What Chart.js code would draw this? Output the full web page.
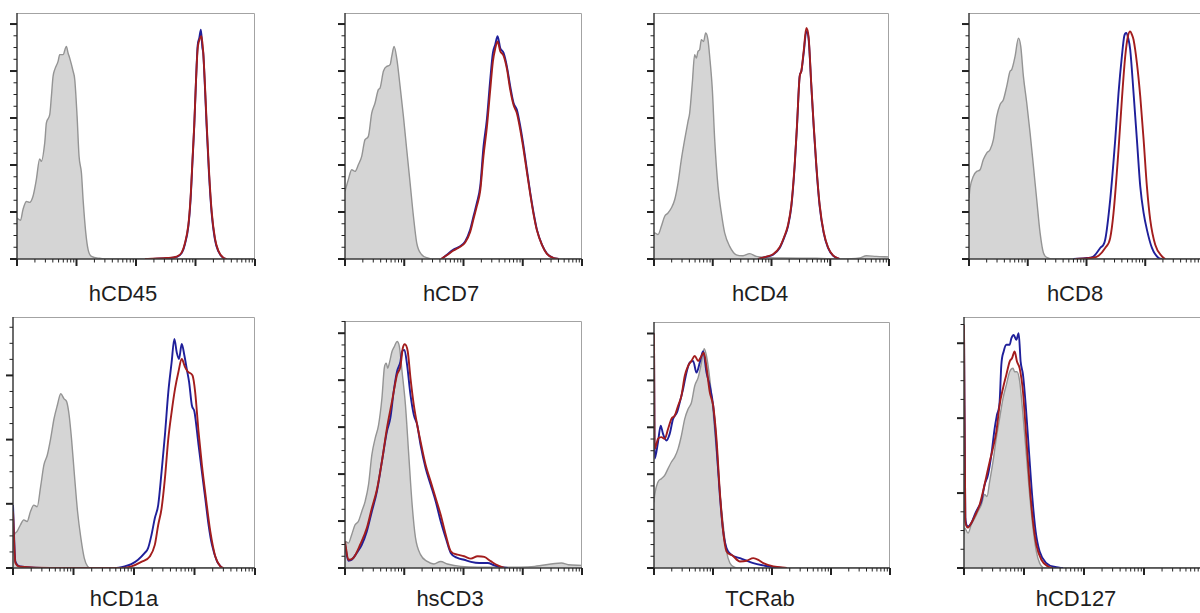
<!DOCTYPE html>
<html>
<head>
<meta charset="utf-8">
<title>Marker histograms</title>
<script src="https://cdn.jsdelivr.net/npm/chart.js@4.4.1/dist/chart.umd.min.js"></script>
<style>
  body { margin: 0; background: #fff; width: 1200px; height: 613px; overflow: hidden; position: relative;
         font-family: "Liberation Sans", Arial, sans-serif; }
  canvas { position: absolute; }
  .label { position: absolute; font-size: 22px; line-height: 22px; color: #1e1e1e;
           transform: translateX(-50%); white-space: nowrap; }
</style>
</head>
<body>
<script>
// histogram data: [log10 fluorescence, % of max]
const markers = ["hCD45", "hCD7", "hCD4", "hCD8", "hCD1a", "hsCD3", "TCRab", "hCD127"];
const yMaxes = [104.7, 104.7, 104.7, 104.7, 78.2, 105.2, 104.9, 67];
const yStep = 20;

const cd45Gray = [[1.0,17.4],[1.06,16.5],[1.1,21],[1.157,24.5],[1.213,24.1],[1.269,26.7],[1.325,33.8],[1.381,42.6],[1.41,41.6],[1.466,49.4],[1.494,57.9],[1.55,61.4],[1.578,69.2],[1.606,77.7],[1.634,80.6],[1.69,84.1],[1.718,87],[1.774,87],[1.83,90.5],[1.858,87.7],[1.886,85.5],[1.943,79.9],[1.971,76.3],[2.01,60.7],[2.043,43.7],[2.083,36.6],[2.111,25.2],[2.156,11.1],[2.195,4],[2.251,1.1],[2.39,0.3],[2.5,0],[5,0]];
const cd45Blue = [[3.18,0],[3.51,0.3],[3.68,0.9],[3.77,2.6],[3.82,6.1],[3.88,13.9],[3.917,25.2],[3.951,42.3],[3.979,56.5],[4.007,74.9],[4.035,90.5],[4.063,94],[4.091,97.6],[4.115,90],[4.13,87.7],[4.158,73.5],[4.187,56.5],[4.226,36.6],[4.271,19.6],[4.327,8.2],[4.383,3.3],[4.467,0.4],[4.523,0]];
const cd45Red = [[3.15,0],[3.51,0.4],[3.68,1],[3.77,2.8],[3.82,6.5],[3.88,14.5],[3.917,26],[3.951,43],[3.979,57],[4.007,75],[4.035,89],[4.07,93.5],[4.1,94.8],[4.13,88],[4.158,74.5],[4.187,58],[4.226,38],[4.271,20.5],[4.327,8.8],[4.383,3.6],[4.467,0.5],[4.523,0]];

const cd7Gray = [[1.0,28.8],[1.056,33.8],[1.113,38],[1.169,37.3],[1.225,40.1],[1.282,43.7],[1.338,50.8],[1.394,52.2],[1.451,62.1],[1.507,66.4],[1.563,72.1],[1.592,72.8],[1.648,79.9],[1.704,82],[1.761,82.7],[1.789,86.2],[1.828,90.5],[1.873,85.5],[1.93,73.5],[1.986,60.7],[2.042,46.5],[2.099,32.3],[2.155,18.2],[2.211,6.8],[2.296,1.8],[2.408,0.4],[2.49,0],[5,0]];
const cd7Blue = [[2.634,0],[2.718,1.8],[2.831,4],[2.944,5.4],[3.028,7.5],[3.113,12.5],[3.169,18.2],[3.225,23.8],[3.282,30.9],[3.338,47.9],[3.394,59.3],[3.451,76.3],[3.496,87.7],[3.535,91.2],[3.575,94.8],[3.62,89.8],[3.676,87.7],[3.732,82],[3.789,73.5],[3.845,66.4],[3.901,63.5],[3.958,56.5],[4.014,47.9],[4.07,38],[4.127,28.1],[4.183,19.6],[4.239,12.5],[4.324,6.1],[4.408,2.3],[4.521,0.4],[4.606,0]];
const cd7Red = [[2.62,0],[2.718,1.6],[2.831,3.6],[2.944,5.2],[3.028,7],[3.113,11.5],[3.169,17],[3.225,22.5],[3.282,29],[3.338,44],[3.394,56],[3.451,72],[3.496,84],[3.535,89.5],[3.575,92.6],[3.62,88.5],[3.676,86.5],[3.732,81],[3.789,72],[3.845,65.5],[3.901,62],[3.958,55],[4.014,46.5],[4.07,37],[4.127,27.5],[4.183,19],[4.239,12.2],[4.324,6],[4.408,2.2],[4.521,0.4],[4.606,0]];

const cd4Gray = [[1.0,10.5],[1.011,11.1],[1.068,10.4],[1.125,13.9],[1.182,18.2],[1.238,19.6],[1.295,21.7],[1.352,25.2],[1.409,32.3],[1.465,42.3],[1.522,50.8],[1.579,58.6],[1.607,62.1],[1.652,74.9],[1.692,87],[1.721,85.5],[1.749,88.4],[1.777,89.1],[1.806,93.3],[1.845,92.6],[1.879,96.2],[1.919,93.3],[1.948,86.2],[1.993,72.1],[2.033,50.8],[2.089,30.9],[2.146,19.6],[2.203,11.1],[2.288,5.4],[2.401,1.8],[2.515,1.4],[2.628,2.3],[2.742,1.1],[2.912,0.7],[3.196,0.4],[3.763,0.3],[4.16,0],[4.5,0.4],[4.614,1.4],[4.784,1.1],[5.0,0.9]];
const cd4Blue = [[2.77,0],[2.912,0.9],[3.026,1.8],[3.139,4.7],[3.224,9.6],[3.281,13.9],[3.338,22.4],[3.394,39.4],[3.434,56.5],[3.479,77.7],[3.508,79.9],[3.548,87.7],[3.593,96.8],[3.633,93.3],[3.678,73.5],[3.718,56.5],[3.763,39.4],[3.82,22.4],[3.888,11.1],[3.962,4.7],[4.047,1.4],[4.16,0]];
const cd4Red = [[2.77,0],[2.912,1],[3.026,2],[3.139,5],[3.224,10],[3.281,14.5],[3.338,23],[3.394,40],[3.434,57],[3.479,77.5],[3.508,80],[3.548,88.5],[3.593,98.3],[3.633,94],[3.678,74],[3.718,57],[3.763,40],[3.82,23],[3.888,11.5],[3.962,5],[4.047,1.5],[4.16,0]];

const cd8Gray = [[1.0,26],[1.017,30.2],[1.074,35.2],[1.131,37.3],[1.188,38],[1.244,42.3],[1.301,45.1],[1.358,46.5],[1.415,50.8],[1.472,60.7],[1.528,65.7],[1.585,67.8],[1.642,73.5],[1.699,79.9],[1.727,80.6],[1.784,86.2],[1.841,94],[1.881,90.5],[1.926,77.7],[1.983,66.4],[2.04,53.6],[2.097,39.4],[2.153,25.2],[2.21,11.1],[2.267,2.6],[2.352,0.4],[2.438,0],[5,0]];
const cd8Blue = [[2.778,0],[3.006,0.4],[3.119,1.1],[3.233,4.7],[3.318,8.2],[3.403,25.2],[3.489,50.8],[3.545,70.6],[3.602,86.2],[3.642,94.8],[3.676,96.2],[3.71,94],[3.744,89.1],[3.801,70.6],[3.858,50.8],[3.915,30.9],[3.972,19.6],[4.028,12.5],[4.114,4.7],[4.227,0.4],[4.284,0]];
const cd8Red = [[2.807,0],[3.062,0.4],[3.205,1.4],[3.318,4.7],[3.403,8.9],[3.46,19.6],[3.545,46.5],[3.602,67.8],[3.659,86.2],[3.705,94.8],[3.744,96.9],[3.773,95.5],[3.801,93.3],[3.858,83.4],[3.915,69.2],[3.972,50.8],[4.028,30.9],[4.085,16.7],[4.17,6.1],[4.284,1.1],[4.341,0]];

const cd1aGray = [[1.0,8],[1.022,10.3],[1.067,11.4],[1.122,13.4],[1.178,15],[1.233,14.5],[1.289,17.6],[1.344,19.6],[1.4,19.1],[1.456,25.3],[1.511,32.1],[1.567,35.2],[1.622,40.3],[1.678,46.5],[1.733,50.7],[1.789,54.3],[1.844,52.7],[1.889,51.7],[1.928,47.6],[1.967,40.3],[2.011,30],[2.067,17.6],[2.122,9.3],[2.178,3.1],[2.233,0.5],[2.289,0],[5,0]];
const cd1aBlue = [[1.0,19.6],[1.039,2.1],[1.122,0.5],[1.622,0],[2.678,0],[2.844,0.5],[2.956,1.2],[3.067,2.6],[3.178,4.7],[3.233,6.2],[3.289,10.3],[3.344,15.5],[3.4,19.6],[3.456,30],[3.511,41.4],[3.567,54.8],[3.622,64.1],[3.667,71.4],[3.706,67.2],[3.744,65.1],[3.789,69.8],[3.833,66.2],[3.872,62],[3.911,57.9],[3.956,50.7],[4.0,48.6],[4.067,38.3],[4.122,30],[4.178,21.7],[4.233,13.4],[4.289,7.2],[4.372,2.1],[4.456,0]];
const cd1aRed = [[1.0,17.6],[1.039,1.6],[1.122,0.4],[1.622,0],[2.789,0],[2.956,0.5],[3.122,1.9],[3.261,3.6],[3.344,7.2],[3.4,13.4],[3.456,18.6],[3.511,27.9],[3.567,40.3],[3.622,48.6],[3.678,55.8],[3.733,61],[3.789,65.1],[3.844,62.6],[3.9,61],[3.967,60],[4.011,54.8],[4.067,42.4],[4.122,32.1],[4.189,21.7],[4.261,11.4],[4.344,3.6],[4.428,0.5],[4.483,0]];

const cd3Gray = [[1.0,10],[1.011,11.3],[1.057,10.6],[1.113,14.2],[1.17,18.4],[1.227,19.9],[1.283,24.1],[1.34,28.4],[1.397,35.5],[1.453,48.2],[1.51,55.3],[1.567,61],[1.623,72.3],[1.663,85.1],[1.697,87.2],[1.72,85.1],[1.754,87.9],[1.793,92.2],[1.833,94.3],[1.878,96.5],[1.918,94.3],[1.963,83.7],[2.02,69.5],[2.076,48.2],[2.133,27],[2.19,12.8],[2.275,5.7],[2.388,2.8],[2.501,1.7],[2.615,2.8],[2.728,1.7],[2.955,0.7],[3.635,0.3],[4.201,0.7],[4.654,2.1],[4.768,1.4],[5.0,1.1]];
const cd3Blue = [[1.0,9.9],[1.057,3.1],[1.113,3.5],[1.198,6.4],[1.283,9.9],[1.368,15.6],[1.453,24.1],[1.538,32.6],[1.623,45.4],[1.708,58.2],[1.765,63.8],[1.822,75.2],[1.878,83.7],[1.935,87.9],[1.963,92.2],[2.003,92.9],[2.048,86.5],[2.105,73.8],[2.161,65.2],[2.218,61],[2.275,52.5],[2.36,42.6],[2.445,35.5],[2.53,28.4],[2.615,19.9],[2.7,12.8],[2.785,6.4],[2.898,4.3],[3.011,3.5],[3.125,2.6],[3.266,2.1],[3.408,2.1],[3.521,1.1],[3.635,0.3],[3.748,0]];
const cd3Red = [[1.0,11.3],[1.057,3.5],[1.142,4.3],[1.255,9.9],[1.368,17],[1.453,25.5],[1.538,33.3],[1.623,45.4],[1.708,59.6],[1.793,70.9],[1.878,82.3],[1.935,85.8],[1.975,93.6],[2.008,95.3],[2.059,92.2],[2.105,80.9],[2.161,69.5],[2.218,61],[2.275,53.9],[2.36,44],[2.445,36.9],[2.53,29.8],[2.615,22.7],[2.7,14.2],[2.785,7.1],[2.898,5.7],[3.011,5],[3.125,4],[3.238,5],[3.351,4.7],[3.465,2.8],[3.578,1.1],[3.691,0]];

const tcrGray = [[1.0,28],[1.011,31.1],[1.068,36.7],[1.125,38.1],[1.181,39.5],[1.238,42.4],[1.295,45.2],[1.351,47.3],[1.408,50.8],[1.465,56.5],[1.521,63.6],[1.578,67.8],[1.635,70.6],[1.691,77.7],[1.748,81.2],[1.805,87.6],[1.85,93.5],[1.89,90.4],[1.946,80.5],[2.003,66.4],[2.059,49.4],[2.116,32.5],[2.173,18.4],[2.229,7.1],[2.286,2.1],[2.371,0.3],[2.456,0],[5,0]];
const tcrBlue = [[1.0,100],[1.011,46.6],[1.068,53.7],[1.113,60.7],[1.153,57.2],[1.21,54.4],[1.266,57.2],[1.323,63.6],[1.391,66.4],[1.436,70.6],[1.493,76.3],[1.55,83.3],[1.606,87.6],[1.663,88.3],[1.72,83.3],[1.776,87.6],[1.833,92.5],[1.89,83.3],[1.946,77.7],[2.003,69.2],[2.059,52.3],[2.116,31.1],[2.173,15.5],[2.229,8.5],[2.314,5.6],[2.456,4.2],[2.569,3.1],[2.683,2.1],[2.853,1.1],[3.023,0.3],[3.249,0]];
const tcrRed = [[1.0,100],[1.011,50.8],[1.068,55.1],[1.125,55.8],[1.181,55.1],[1.238,59.3],[1.295,63.6],[1.351,65],[1.408,69.2],[1.465,73.4],[1.521,81.9],[1.578,86.2],[1.635,88.3],[1.691,90.4],[1.748,88.3],[1.805,90.4],[1.844,91.8],[1.89,85.5],[1.946,74.9],[2.003,69.2],[2.059,55.1],[2.116,32.5],[2.173,15.5],[2.229,7.1],[2.314,5.6],[2.456,2.8],[2.569,3.1],[2.683,4.2],[2.768,3.5],[2.853,2.1],[3.023,0.7],[3.249,0]];

const cd127Gray = [[1.0,9],[1.011,10.7],[1.067,9.3],[1.122,11.6],[1.178,13.3],[1.233,15.1],[1.289,16.9],[1.344,19.6],[1.383,19.1],[1.428,23.1],[1.483,28.4],[1.539,34.7],[1.594,40],[1.65,45.3],[1.706,48.9],[1.761,52.4],[1.817,53.3],[1.844,52.4],[1.883,52.4],[1.928,49.8],[1.983,40.9],[2.039,30.2],[2.094,19.6],[2.15,10.7],[2.206,4.4],[2.261,1.3],[2.344,0],[5,0]];
const cd127Blue = [[1.0,64.9],[1.022,13.3],[1.067,11.1],[1.122,12],[1.178,14.2],[1.233,16],[1.289,17.8],[1.344,22.2],[1.4,24.9],[1.456,30.2],[1.511,37.3],[1.55,40.9],[1.594,44.4],[1.622,54.2],[1.661,57.8],[1.706,59.6],[1.761,59.6],[1.789,61.3],[1.828,62.2],[1.872,60.9],[1.911,62.7],[1.944,55.1],[1.983,51.6],[2.028,43.6],[2.083,31.1],[2.139,18.7],[2.194,9.8],[2.261,4.4],[2.372,1.3],[2.539,0.2],[2.65,0]];
const cd127Red = [[1.0,64.9],[1.022,12.4],[1.067,10.8],[1.122,12],[1.178,13.8],[1.261,16.9],[1.317,20.4],[1.372,24.4],[1.428,28.4],[1.483,32],[1.539,36.4],[1.594,43.6],[1.65,48],[1.706,51.6],[1.761,55.1],[1.8,56],[1.844,57.8],[1.883,55.1],[1.928,53.3],[1.983,47.1],[2.039,34.7],[2.094,22.2],[2.15,12.4],[2.206,6.2],[2.289,2.2],[2.4,0.4],[2.483,0]];

const grays = [cd45Gray, cd7Gray, cd4Gray, cd8Gray, cd1aGray, cd3Gray, tcrGray, cd127Gray];
const blues = [cd45Blue, cd7Blue, cd4Blue, cd8Blue, cd1aBlue, cd3Blue, tcrBlue, cd127Blue];
const reds = [cd45Red, cd7Red, cd4Red, cd8Red, cd1aRed, cd3Red, tcrRed, cd127Red];

// plot boxes on the page: left, top, right, bottom
const boxes = [
  [17, 13, 255, 259], [345, 13, 582, 259], [654, 13, 889, 259], [969, 13, 1204, 259],
  [13, 317, 255, 568], [345, 321, 582, 568], [654, 322, 890, 568], [964, 317, 1204, 568]
];
const labelPos = [[123, 283], [451, 283], [760, 283], [1075, 283], [124, 588], [450, 588], [760, 588], [1076, 588]];
const pad = { left: 12, top: 3, right: 3, bottom: 10 };

// frame + tick marks drawn from the scales
const facsAxes = {
  id: "facsAxes",
  afterDatasetsDraw(chart, args, opts) {
    const { ctx, chartArea: a, scales: { x, y } } = chart;
    ctx.save();
    ctx.strokeStyle = "#a3a3a3";
    ctx.lineWidth = 1;
    ctx.beginPath();
    ctx.moveTo(a.left, a.top + 0.5);
    ctx.lineTo(a.right - 0.5, a.top + 0.5);
    ctx.lineTo(a.right - 0.5, a.bottom);
    ctx.stroke();

    ctx.strokeStyle = "#3c3c3c";
    ctx.lineWidth = 1.5;
    ctx.beginPath();
    ctx.moveTo(a.left, a.top);
    ctx.lineTo(a.left, a.bottom);
    ctx.lineTo(a.right, a.bottom);
    ctx.stroke();

    const tick = (x0, y0, x1, y1, w) => {
      ctx.lineWidth = w;
      ctx.beginPath();
      ctx.moveTo(x0, y0);
      ctx.lineTo(x1, y1);
      ctx.stroke();
    };
    ctx.strokeStyle = "#222";
    for (let p = x.min; p < x.max * 0.999; p *= 10) {
      for (let k = 1; k < 10; k++) {
        const px = x.getPixelForValue(p * k);
        tick(px, a.bottom, px, a.bottom + (k === 1 ? 7 : 3.5), k === 1 ? 2 : 1);
      }
    }
    const pxEnd = x.getPixelForValue(x.max);
    tick(pxEnd, a.bottom, pxEnd, a.bottom + 7, 2);

    const step = opts.step;
    for (let i = 0; i * step / 4 <= y.max; i++) {
      const py = y.getPixelForValue(i * step / 4);
      const major = i % 4 === 0;
      tick(a.left, py, a.left - (major ? 7 : 3.5), py, major ? 2 : 1);
    }
    ctx.restore();
  }
};

const toPoints = s => s.map(([d, v]) => ({ x: 10 ** d, y: v }));

markers.forEach((name, i) => {
  const [l, t, r, b] = boxes[i];
  const canvas = document.createElement("canvas");
  const w = r - l + pad.left + pad.right;
  const h = b - t + pad.top + pad.bottom;
  canvas.width = w;
  canvas.height = h;
  canvas.style.left = (l - pad.left) + "px";
  canvas.style.top = (t - pad.top) + "px";
  canvas.style.width = w + "px";
  canvas.style.height = h + "px";
  document.body.appendChild(canvas);

  new Chart(canvas, {
    type: "line",
    data: {
      datasets: [
        { label: "red", data: toPoints(reds[i]), borderColor: "#a31d1d", borderWidth: 1.9, fill: false, order: 1 },
        { label: "blue", data: toPoints(blues[i]), borderColor: "#1f1f9a", borderWidth: 1.9, fill: false, order: 2 },
        { label: "isotype", data: toPoints(grays[i]), borderColor: "#949494", backgroundColor: "#d5d5d5",
          borderWidth: 1.4, fill: "origin", order: 3 }
      ]
    },
    options: {
      responsive: false,
      animation: false,
      layout: { padding: pad },
      elements: { point: { radius: 0 }, line: { cubicInterpolationMode: "monotone" } },
      scales: {
        x: { type: "logarithmic", min: 10, max: 100000, display: false },
        y: { type: "linear", min: 0, max: yMaxes[i], display: false }
      },
      plugins: {
        legend: { display: false },
        tooltip: { enabled: false },
        facsAxes: { step: yStep }
      }
    },
    plugins: [facsAxes]
  });

  const lab = document.createElement("div");
  lab.className = "label";
  lab.textContent = name;
  lab.style.left = labelPos[i][0] + "px";
  lab.style.top = labelPos[i][1] + "px";
  document.body.appendChild(lab);
});
</script>
</body>
</html>
